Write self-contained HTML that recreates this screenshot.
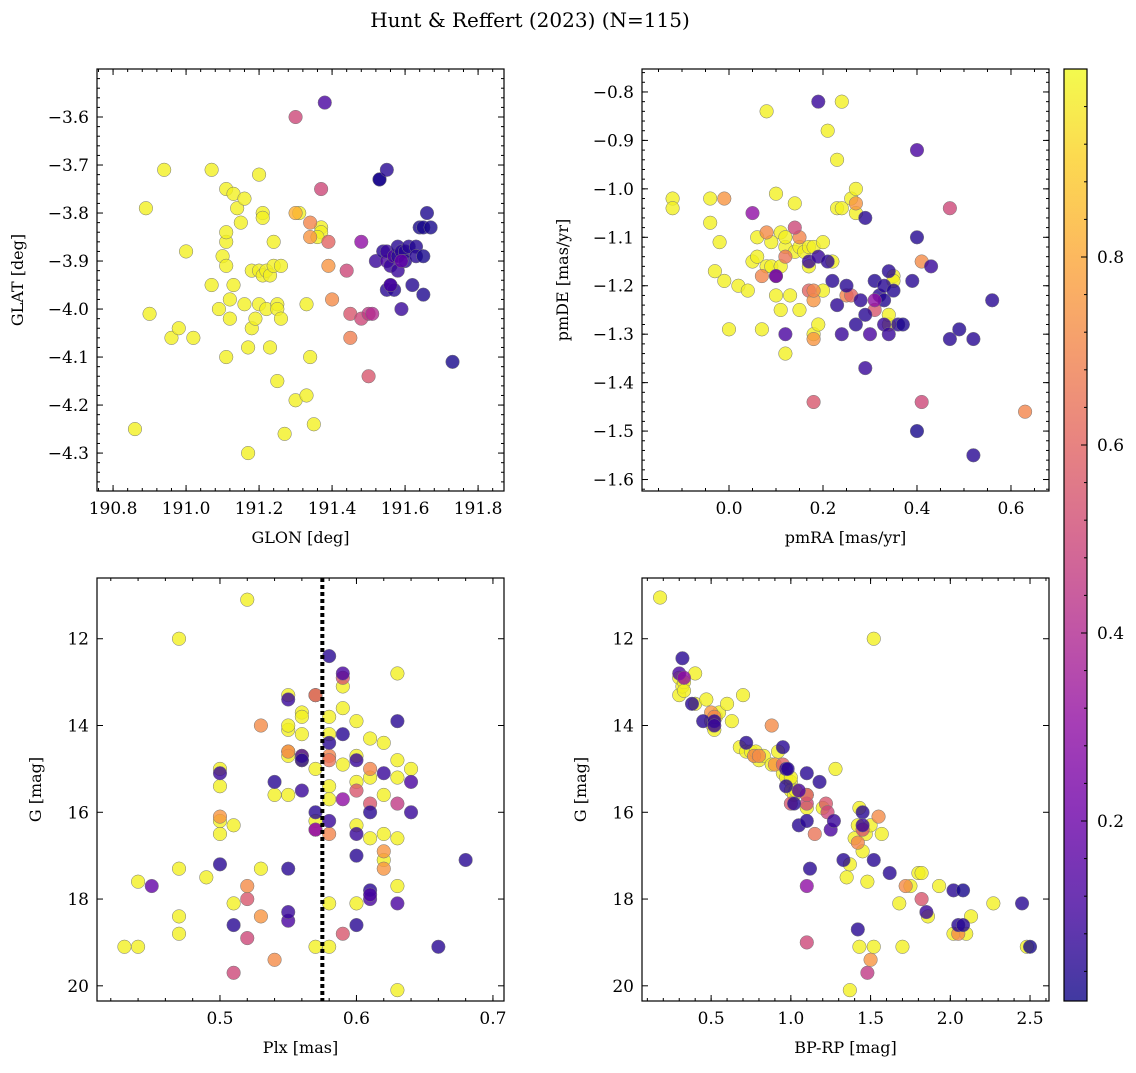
<!DOCTYPE html>
<html><head><meta charset="utf-8">
<style>
html,body{margin:0;padding:0;background:#fff;}
svg text{font-family:"DejaVu Serif","Liberation Serif",serif;fill:#000;}
</style></head>
<body>
<svg id="fig" width="1136" height="1068" viewBox="0 0 1136 1068" xmlns="http://www.w3.org/2000/svg">
<text x="530" y="27" font-size="20" text-anchor="middle">Hunt &amp; Reffert (2023) (N=115)</text>
</svg>
<script>
// ---- Panel 1: GLON vs GLAT ----
const p1x=[190.86,190.89,190.90,190.94,190.96,190.98,191.00,191.02,191.07,191.07,191.09,191.10,191.11,191.11,191.11,191.11,191.11,191.12,191.12,191.13,191.13,191.14,191.15,191.16,191.16,191.17,191.17,191.18,191.18,191.19,191.20,191.20,191.20,191.21,191.21,191.21,191.22,191.22,191.23,191.23,191.24,191.24,191.25,191.25,191.25,191.26,191.26,191.27,191.30,191.31,191.33,191.33,191.34,191.35,191.37,191.37,191.36,
191.30,191.34,191.34,191.39,191.40,191.39,191.45,191.30,191.37,191.44,191.45,191.48,191.50,191.50,191.51,
191.38,191.48,191.52,191.53,191.53,191.55,191.54,191.55,191.55,191.55,191.56,191.56,191.57,191.57,191.58,191.58,191.58,191.59,191.59,191.60,191.60,191.61,191.62,191.63,191.63,191.64,191.65,191.65,191.65,191.66,191.67,191.73,191.56,191.59];
const p1y=[-4.25,-3.79,-4.01,-3.71,-4.06,-4.04,-3.88,-4.06,-3.71,-3.95,-4.00,-3.89,-3.75,-3.86,-3.84,-3.91,-4.10,-3.98,-4.02,-3.95,-3.76,-3.79,-3.82,-3.77,-3.99,-4.30,-4.08,-3.92,-4.04,-4.02,-3.99,-3.72,-3.92,-3.93,-3.80,-3.81,-4.00,-3.92,-4.08,-3.93,-3.91,-3.86,-4.15,-3.99,-4.00,-4.02,-3.91,-4.26,-4.19,-3.80,-4.18,-3.99,-4.10,-4.24,-3.83,-3.84,-3.85,
-3.80,-3.82,-3.85,-3.91,-3.98,-3.86,-4.06,-3.60,-3.75,-3.92,-4.01,-4.02,-4.01,-4.14,-4.01,
-3.57,-3.86,-3.90,-3.73,-3.73,-3.71,-3.88,-3.90,-3.88,-3.96,-3.95,-3.91,-3.89,-3.96,-3.89,-3.92,-3.87,-3.88,-4.00,-3.88,-3.90,-3.87,-3.95,-3.87,-3.89,-3.83,-3.83,-3.97,-3.89,-3.80,-3.83,-4.11,-3.95,-3.90];
const p1c=[0.98,0.98,0.98,0.98,0.98,0.98,0.98,0.98,0.98,0.98,0.98,0.98,0.98,0.98,0.98,0.98,0.98,0.98,0.98,0.98,0.98,0.98,0.98,0.98,0.98,0.98,0.98,0.98,0.98,0.98,0.98,0.98,0.98,0.98,0.98,0.98,0.98,0.98,0.98,0.98,0.98,0.98,0.98,0.98,0.98,0.98,0.98,0.98,0.98,0.98,0.98,0.98,0.98,0.98,0.98,0.98,0.98,
0.82,0.7,0.75,0.75,0.72,0.6,0.68,0.5,0.5,0.5,0.55,0.5,0.45,0.55,0.4,
0.12,0.3,0.08,0.05,0.02,0.05,0.05,0.12,0.08,0.05,0.05,0.08,0.12,0.05,0.05,0.08,0.05,0.06,0.08,0.05,0.05,0.05,0.04,0.04,0.05,0.02,0.02,0.03,0.02,0.03,0.02,0.02,0.12,0.18];
// ---- Panel 2: pmRA vs pmDE ----
const p2x=[-0.12,-0.12,-0.04,-0.04,-0.03,-0.02,-0.01,0.00,0.02,0.04,0.05,0.06,0.06,0.07,0.08,0.08,0.09,0.09,0.10,0.10,0.11,0.11,0.11,0.12,0.12,0.12,0.13,0.14,0.14,0.15,0.15,0.16,0.17,0.17,0.18,0.18,0.19,0.20,0.20,0.21,0.22,0.23,0.23,0.24,0.24,0.26,0.27,0.27,0.34,0.34,0.35,0.35,
-0.01,0.07,0.08,0.10,0.12,0.15,0.17,0.18,0.18,0.18,0.18,0.25,0.26,0.27,0.31,0.41,0.41,0.47,0.63,0.14,
0.05,0.10,0.12,0.17,0.19,0.19,0.21,0.22,0.23,0.24,0.25,0.27,0.28,0.29,0.29,0.29,0.30,0.31,0.32,0.33,0.33,0.33,0.34,0.34,0.35,0.36,0.37,0.39,0.40,0.40,0.40,0.43,0.47,0.49,0.52,0.52,0.56,0.31];
const p2y=[-1.02,-1.04,-1.02,-1.07,-1.17,-1.11,-1.19,-1.29,-1.20,-1.21,-1.15,-1.10,-1.14,-1.29,-0.84,-1.16,-1.11,-1.16,-1.01,-1.22,-1.09,-1.16,-1.25,-1.34,-1.12,-1.10,-1.22,-1.03,-1.13,-1.12,-1.25,-1.13,-1.12,-1.16,-1.12,-1.30,-1.28,-1.11,-1.21,-0.88,-1.15,-0.94,-1.04,-0.82,-1.04,-1.02,-1.00,-1.05,-1.28,-1.26,-1.18,-1.19,
-1.02,-1.18,-1.09,-1.18,-1.14,-1.10,-1.21,-1.23,-1.21,-1.44,-1.31,-1.22,-1.22,-1.03,-1.25,-1.15,-1.44,-1.04,-1.46,-1.08,
-1.05,-1.18,-1.30,-1.15,-0.82,-1.14,-1.15,-1.19,-1.24,-1.30,-1.20,-1.28,-1.23,-1.26,-1.37,-1.06,-1.30,-1.19,-1.22,-1.23,-1.28,-1.20,-1.17,-1.30,-1.21,-1.28,-1.28,-1.19,-1.50,-1.10,-0.92,-1.16,-1.31,-1.29,-1.31,-1.55,-1.23,-1.23];
const p2c=[0.98,0.98,0.98,0.98,0.98,0.98,0.98,0.98,0.98,0.98,0.98,0.98,0.98,0.98,0.98,0.98,0.98,0.98,0.98,0.98,0.98,0.98,0.98,0.98,0.98,0.98,0.98,0.98,0.98,0.98,0.98,0.98,0.98,0.98,0.98,0.98,0.98,0.98,0.98,0.98,0.98,0.98,0.98,0.98,0.98,0.98,0.98,0.98,0.98,0.98,0.98,0.98,
0.75,0.7,0.72,0.55,0.65,0.7,0.6,0.75,0.7,0.55,0.75,0.7,0.6,0.75,0.55,0.72,0.5,0.5,0.7,0.5,
0.3,0.18,0.12,0.08,0.08,0.08,0.06,0.05,0.06,0.08,0.05,0.05,0.06,0.05,0.08,0.05,0.12,0.04,0.05,0.04,0.08,0.05,0.05,0.08,0.04,0.05,0.03,0.05,0.02,0.04,0.12,0.08,0.05,0.04,0.05,0.05,0.05,0.3];
// ---- Panel 3: Plx vs G ----
const p3x=[0.43,0.44,0.44,0.47,0.47,0.47,0.47,0.49,0.50,0.50,0.50,0.50,0.51,0.51,0.52,0.53,0.54,0.55,0.55,0.55,0.55,0.55,0.56,0.56,0.56,0.56,0.56,0.57,0.57,0.57,0.58,0.57,0.58,0.58,0.58,0.58,0.58,0.59,0.59,0.60,0.60,0.60,0.60,0.60,0.61,0.61,0.61,0.62,0.62,0.62,0.62,0.63,0.63,0.63,0.63,0.63,0.64,0.63,0.55,0.57,0.59,
0.50,0.52,0.52,0.52,0.53,0.53,0.54,0.51,0.55,0.57,0.57,0.58,0.58,0.58,0.59,0.59,0.61,0.61,0.62,0.62,0.63,0.60,
0.45,0.50,0.50,0.51,0.54,0.55,0.55,0.55,0.55,0.56,0.56,0.56,0.57,0.57,0.58,0.58,0.58,0.59,0.59,0.60,0.60,0.60,0.61,0.61,0.61,0.61,0.62,0.63,0.63,0.64,0.64,0.66,0.68,0.60,0.59];
const p3y=[19.1,17.6,19.1,12.0,18.4,17.3,18.8,17.5,15.0,16.5,16.2,15.4,16.3,18.1,11.1,17.3,15.6,14.6,15.6,14.1,14.0,13.3,13.7,13.8,14.2,14.8,14.7,13.3,13.3,19.1,15.4,15.0,14.2,13.8,18.1,15.7,19.1,13.1,13.6,13.9,14.7,15.3,16.3,18.1,15.2,16.6,14.3,15.6,16.5,17.1,14.4,14.8,12.8,15.2,16.6,17.7,15.0,20.1,14.7,16.2,14.9,
16.1,18.0,18.9,17.7,14.0,18.4,19.4,19.7,14.6,13.3,16.4,14.7,14.8,16.5,12.9,18.8,15.0,15.8,17.3,16.9,15.8,15.5,
17.7,15.1,17.2,18.6,15.3,13.4,17.3,18.5,18.3,14.7,15.5,14.8,16.0,16.4,12.4,14.4,16.2,12.8,15.7,18.6,17.0,14.8,18.0,16.0,17.8,17.9,15.1,13.9,18.1,16.0,15.3,19.1,17.1,16.5,14.2];
const p3c=[0.98,0.98,0.98,0.98,0.98,0.98,0.98,0.98,0.98,0.98,0.98,0.98,0.98,0.98,0.98,0.98,0.98,0.98,0.98,0.98,0.98,0.98,0.98,0.98,0.98,0.98,0.98,0.98,0.98,0.98,0.98,0.98,0.98,0.98,0.98,0.98,0.98,0.98,0.98,0.98,0.98,0.98,0.98,0.98,0.98,0.98,0.98,0.98,0.98,0.98,0.98,0.98,0.98,0.98,0.98,0.98,0.98,0.98,0.98,0.98,0.98,
0.75,0.55,0.5,0.72,0.72,0.75,0.72,0.5,0.7,0.55,0.5,0.7,0.65,0.7,0.55,0.55,0.7,0.55,0.75,0.75,0.45,0.55,
0.18,0.08,0.05,0.05,0.05,0.08,0.05,0.12,0.08,0.12,0.08,0.05,0.05,0.3,0.05,0.05,0.08,0.12,0.3,0.05,0.05,0.08,0.12,0.05,0.05,0.12,0.08,0.05,0.12,0.08,0.12,0.05,0.05,0.08,0.05];
// ---- Panel 4: BP-RP vs G ----
const p4x=[0.18,0.30,0.30,0.32,0.33,0.33,0.40,0.40,0.47,0.50,0.51,0.52,0.53,0.55,0.60,0.63,0.68,0.70,0.72,0.75,0.77,0.78,0.80,0.83,0.88,0.92,0.95,0.97,1.00,1.00,1.00,1.02,1.03,1.10,1.10,1.20,1.28,1.35,1.37,1.40,1.42,1.43,1.43,1.45,1.47,1.48,1.50,1.52,1.52,1.57,1.68,1.70,1.75,1.80,1.82,1.86,1.93,2.02,2.10,2.13,2.27,2.48,1.37,
0.50,0.52,0.77,0.80,0.88,0.90,1.00,1.10,1.10,1.10,1.15,1.22,1.42,1.45,1.48,1.50,1.55,1.72,1.82,2.05,1.23,0.95,
0.30,0.32,0.33,0.38,0.45,0.52,0.52,0.72,0.95,0.97,0.97,0.98,1.02,1.05,1.05,1.10,1.10,1.12,1.10,1.18,1.25,1.33,1.42,1.45,1.45,1.52,1.62,1.85,2.02,2.08,2.05,2.08,2.45,2.50,1.27];
const p4y=[11.05,13.3,12.9,13.1,13.0,13.2,12.8,13.5,13.4,13.9,14.0,14.1,13.8,13.7,13.5,13.9,14.5,13.3,14.6,14.6,14.7,14.6,14.8,14.7,14.9,14.6,15.1,15.2,15.3,15.2,15.5,15.6,15.5,15.6,15.9,15.9,15.0,17.5,17.2,16.6,16.3,15.9,19.1,16.9,16.5,17.6,16.3,19.1,12.0,16.5,18.1,19.1,17.7,17.4,17.4,18.4,17.7,18.8,18.8,18.4,18.1,19.1,20.1,
13.7,13.8,14.7,14.7,14.0,14.9,15.8,15.8,15.6,19.0,16.5,15.8,16.7,16.4,19.7,19.4,16.1,17.7,18.0,18.8,16.0,14.9,
12.8,12.45,12.9,13.5,13.9,13.9,14.0,14.4,14.5,15.0,15.4,15.0,15.8,16.3,15.5,15.1,16.2,17.3,17.7,15.3,16.4,17.1,18.7,16.0,16.3,17.1,17.4,18.3,17.8,17.8,18.6,18.6,18.1,19.1,16.2];
const p4c=[0.98,0.98,0.98,0.98,0.98,0.98,0.98,0.98,0.98,0.98,0.98,0.98,0.98,0.98,0.98,0.98,0.98,0.98,0.98,0.98,0.98,0.98,0.98,0.98,0.98,0.98,0.98,0.98,0.98,0.98,0.98,0.98,0.98,0.98,0.98,0.98,0.98,0.98,0.98,0.98,0.98,0.98,0.98,0.98,0.98,0.98,0.98,0.98,0.98,0.98,0.98,0.98,0.98,0.98,0.98,0.98,0.98,0.98,0.98,0.98,0.98,0.98,0.98,
0.75,0.7,0.7,0.72,0.72,0.75,0.55,0.5,0.55,0.5,0.65,0.55,0.7,0.55,0.45,0.75,0.72,0.72,0.55,0.72,0.5,0.6,
0.12,0.05,0.3,0.05,0.05,0.05,0.08,0.05,0.05,0.08,0.05,0.05,0.05,0.05,0.12,0.05,0.05,0.05,0.3,0.05,0.12,0.05,0.05,0.05,0.08,0.05,0.05,0.08,0.05,0.02,0.05,0.05,0.05,0.02,0.08];
// tick definitions
const p1xt=[190.8,191.0,191.2,191.4,191.6,191.8];
const p1yt=[-3.6,-3.7,-3.8,-3.9,-4.0,-4.1,-4.2,-4.3];
const p2xt=[0.0,0.2,0.4,0.6];
const p2yt=[-0.8,-0.9,-1.0,-1.1,-1.2,-1.3,-1.4,-1.5,-1.6];
const p3xt=[0.5,0.6,0.7];
const gTicks=[12,14,16,18,20];
const p4xt=[0.5,1.0,1.5,2.0,2.5];
const cbTicks=[0.2,0.4,0.6,0.8];
const plxLine=0.575;

const NS="http://www.w3.org/2000/svg";
const svg=document.getElementById('fig');
function mk(t,a,p){const e=document.createElementNS(NS,t);for(const k in a)e.setAttribute(k,a[k]);(p||svg).appendChild(e);return e;}
const stops=[[13,8,135],[65,4,157],[106,0,168],[143,13,164],[177,42,144],[204,71,120],[225,100,98],[242,132,75],[252,166,54],[252,206,37],[240,249,33]];
function plasma(v){v=Math.max(0,Math.min(1,v));const f=v*10,i=Math.min(9,Math.floor(f)),t=f-i;const a=stops[i],b=stops[i+1];return `rgb(${a.map((x,k)=>Math.round(x+(b[k]-x)*t)).join(',')})`;}
function fmt(v,d){return (v<0?'\u2212':'')+Math.abs(v).toFixed(d);}

function panel(o){
  const g=mk('g',{});
  
  
  const X=v=>o.x0+(v-o.xmin)/(o.xmax-o.xmin)*(o.x1-o.x0);
  const Y=v=>o.y1-(v-o.ymin)/(o.ymax-o.ymin)*(o.y1-o.y0);
  const cp='cp'+o.name;
  const defs=mk('defs',{},g);const c=mk('clipPath',{id:cp},defs);mk('rect',{x:o.x0,y:o.y0,width:o.x1-o.x0,height:o.y1-o.y0},c);
  const pts=mk('g',{'clip-path':`url(#${cp})`},g);
  for(let i=0;i<o.xs.length;i++){
    const m=mk('circle',{cx:X(o.xs[i]),cy:Y(o.ys[i]),r:6.8,fill:plasma(o.cs[i]),'fill-opacity':0.8,stroke:'#777','stroke-width':0.5},pts);
    
    
  }
  if(o.vline!==undefined){const l=mk('line',{x1:X(o.vline),x2:X(o.vline),y1:o.y0,y2:o.y1,stroke:'#000','stroke-width':4,'stroke-dasharray':'4 3'},g);
    }
  mk('rect',{x:o.x0,y:o.y0,width:o.x1-o.x0,height:o.y1-o.y0,fill:'none',stroke:'#000','stroke-width':1.2},g);
  const ax=mk('g',{stroke:'#000','stroke-width':1},g);
  for(let v=Math.ceil(o.xmin/o.xmn)*o.xmn;v<=o.xmax;v+=o.xmn){const px=X(v);mk('line',{x1:px,x2:px,y1:o.y1,y2:o.y1-3},ax);mk('line',{x1:px,x2:px,y1:o.y0,y2:o.y0+3},ax);}
  for(let v=Math.ceil(o.ymin/o.ymn)*o.ymn;v<=o.ymax;v+=o.ymn){const py=Y(v);mk('line',{x1:o.x0,x2:o.x0+3,y1:py,y2:py},ax);mk('line',{x1:o.x1,x2:o.x1-3,y1:py,y2:py},ax);}
  o.xt.forEach(v=>{const px=X(v);if(px<o.x0-1||px>o.x1+1)return;mk('line',{x1:px,x2:px,y1:o.y1,y2:o.y1-6},ax);mk('line',{x1:px,x2:px,y1:o.y0,y2:o.y0+6},ax);
    const t=mk('text',{x:px,y:o.y1+23,'font-size':17,'text-anchor':'middle'},g);t.textContent=fmt(v,o.xd);});
  o.yt.forEach(v=>{const py=Y(v);mk('line',{x1:o.x0,x2:o.x0+6,y1:py,y2:py},ax);mk('line',{x1:o.x1,x2:o.x1-6,y1:py,y2:py},ax);
    const t=mk('text',{x:o.x0-8,y:py+6,'font-size':17,'text-anchor':'end'},g);t.textContent=fmt(v,o.yd);});
  const xl=mk('text',{x:(o.x0+o.x1)/2,y:o.y1+52,'font-size':16,'text-anchor':'middle'},g);xl.textContent=o.xlab;
  
  const yx=o.x0-o.ylo,yy=(o.y0+o.y1)/2;
  const yl=mk('text',{x:yx,y:yy,'font-size':16,'text-anchor':'middle',transform:`rotate(-90 ${yx} ${yy})`},g);yl.textContent=o.ylab;
  
}
panel({name:'glon-glat-panel',x0:97,x1:504,y0:69,y1:491,xmin:190.756,xmax:191.871,ymin:-4.379,ymax:-3.5,xs:p1x,ys:p1y,cs:p1c,xt:p1xt,yt:p1yt,xd:1,yd:1,xmn:0.04,ymn:0.02,xlab:'GLON [deg]',ylab:'GLAT [deg]',ylo:74});
panel({name:'pm-panel',x0:642,x1:1049,y0:69,y1:491,xmin:-0.1851,xmax:0.6809,ymin:-1.6237,ymax:-0.7526,xs:p2x,ys:p2y,cs:p2c,xt:p2xt,yt:p2yt,xd:1,yd:1,xmn:0.05,ymn:0.02,xlab:'pmRA [mas/yr]',ylab:'pmDE [mas/yr]',ylo:74});
panel({name:'plx-g-panel',x0:97,x1:504,y0:578,y1:1001,xmin:0.4099,xmax:0.7081,ymin:20.35,ymax:10.6,xs:p3x,ys:p3y,cs:p3c,xt:p3xt,yt:gTicks,xd:1,yd:0,xmn:0.02,ymn:0.5,xlab:'Plx [mas]',ylab:'G [mag]',ylo:56,vline:plxLine});
panel({name:'cmd-panel',x0:642,x1:1049,y0:578,y1:1001,xmin:0.0665,xmax:2.619,ymin:20.35,ymax:10.6,xs:p4x,ys:p4y,cs:p4c,xt:p4xt,yt:gTicks,xd:1,yd:0,xmn:0.1,ymn:0.5,xlab:'BP-RP [mag]',ylab:'G [mag]',ylo:56});

// colorbar
(function(){
  const g=mk('g',{});
  
  
  const x0=1064,x1=1087,y0=69,y1=1001,vmin=0.0085,vmax=1.0;
  const defs=mk('defs',{},g);const lg=mk('linearGradient',{id:'cbg',x1:0,y1:1,x2:0,y2:0},defs);
  for(let i=0;i<=20;i++){const v=vmin+(vmax-vmin)*i/20;mk('stop',{offset:i/20,'stop-color':plasma(v),'stop-opacity':0.8},lg);}
  mk('rect',{x:x0,y:y0,width:x1-x0,height:y1-y0,fill:'url(#cbg)',stroke:'#000','stroke-width':1.2},g);
  const Y=v=>y1-(v-vmin)/(vmax-vmin)*(y1-y0);
  for(let v=0.04;v<vmax;v+=0.04){mk('line',{x1:x1,x2:x1-3,y1:Y(v),y2:Y(v),stroke:'#000'},g);}
  cbTicks.forEach(v=>{mk('line',{x1:x1,x2:x1-6,y1:Y(v),y2:Y(v),stroke:'#000'},g);
    const t=mk('text',{x:x1+10,y:Y(v)+6,'font-size':17},g);t.textContent=v.toFixed(1);
    });
})();
</script>
</body></html>
